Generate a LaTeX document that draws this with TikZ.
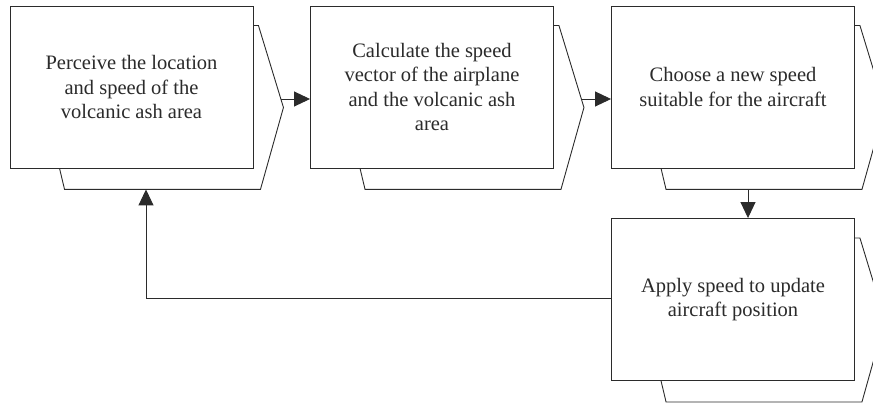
\documentclass[tikz,border=0pt]{standalone}
\usepackage{fontspec}
\setmainfont{Liberation Serif}
\usetikzlibrary{calc,arrows.meta}
\definecolor{ink}{HTML}{2B2B2B}
\begin{document}
\begin{tikzpicture}[x=1pt,y=1pt,
  stepbox/.style={draw=ink,line width=0.9pt,fill=white,minimum width=243pt,minimum height=162pt,
    align=center,font=\fontsize{20.5}{24.5}\selectfont,text=ink,inner sep=0pt},
  backline/.style={draw=ink,line width=0.9pt,line join=miter},
  arr/.style={draw=ink,line width=0.9pt,-{Triangle[length=16pt,width=15pt]}}]
\useasboundingbox (0,0) rectangle (873,402);
\clip (0,0) rectangle (873,402);

% chevron outline drawn behind a step box
\newcommand{\backchev}[1]{%
  \draw[backline] ($(#1.north east)+(0,-20)$) -- ($(#1.north east)+(5,-20)$)
    -- ($(#1.east)+(30,-20.5)$) -- ($(#1.south east)+(7,-21)$)
    -- ($(#1.south west)+(55,-21)$) -- ($(#1.south west)+(50,0)$);}

\node[stepbox] (b1) at (131.5,315) {Perceive the location\\and speed of the\\volcanic ash area};
\node[stepbox] (b2) at (432,315) {Calculate the speed\\vector of the airplane\\and the volcanic ash\\area};
\node[stepbox] (b3) at (733,315) {Choose a new speed\\suitable for the aircraft};
\node[stepbox] (b4) at (733,102.5) {Apply speed to update\\aircraft position};

\backchev{b1}
\backchev{b2}
\backchev{b3}
\backchev{b4}

\draw[arr] ($(b1.east)+(27.5,-12)$) -- ($(b2.west)+(0,-12)$);
\draw[arr] ($(b2.east)+(27.5,-12)$) -- ($(b3.west)+(0,-12)$);
\draw[arr] ($(b3.south)+(15,-21)$) -- ($(b4.north)+(15,0)$);
\draw[arr] ($(b4.west)+(0,1.5)$) -| ($(b1.south)+(14.5,-21)$);
\end{tikzpicture}
\end{document}
